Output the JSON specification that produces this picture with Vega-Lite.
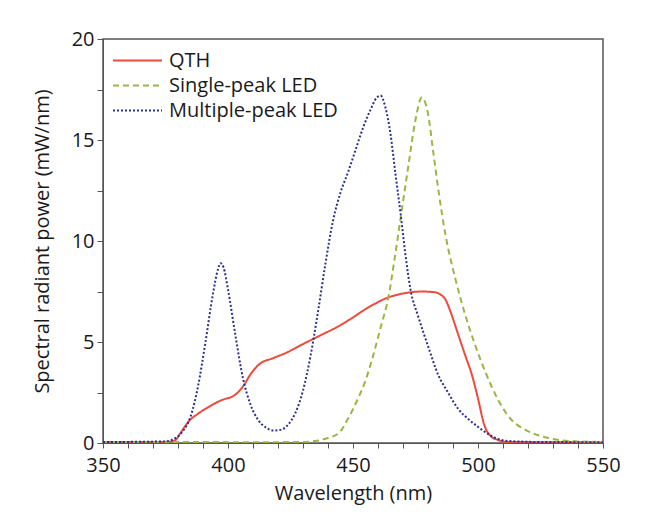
{
  "$schema": "https://vega.github.io/schema/vega-lite/v6.json",
  "autosize": "none",
  "width": 500,
  "height": 404,
  "padding": {"left": 103, "top": 39, "right": 46, "bottom": 86},
  "background": "white",
  "config": {
    "font": "Open Sans",
    "view": {"stroke": "#555555", "strokeWidth": 1.5},
    "axis": {"grid": false, "domainColor": "#555555", "tickColor": "#555555", "labelColor": "#1a1a1a", "titleColor": "#1a1a1a", "labelFontSize": 20, "titleFontSize": 20, "titleFontWeight": "normal", "labelFont": "Open Sans", "titleFont": "Open Sans"}
  },
  "data": {"values": [
    {"s":"QTH","wl":350,"p":0.04},{"s":"QTH","wl":360,"p":0.05},{"s":"QTH","wl":370,"p":0.05},{"s":"QTH","wl":376,"p":0.06},
    {"s":"QTH","wl":379,"p":0.15},{"s":"QTH","wl":381,"p":0.5},{"s":"QTH","wl":384.5,"p":1.1},{"s":"QTH","wl":388,"p":1.45},
    {"s":"QTH","wl":392.5,"p":1.8},{"s":"QTH","wl":397,"p":2.1},{"s":"QTH","wl":403,"p":2.4},{"s":"QTH","wl":406,"p":2.8},
    {"s":"QTH","wl":409,"p":3.4},{"s":"QTH","wl":412.5,"p":3.9},{"s":"QTH","wl":418,"p":4.2},{"s":"QTH","wl":423,"p":4.45},
    {"s":"QTH","wl":430,"p":4.9},{"s":"QTH","wl":437.5,"p":5.36},{"s":"QTH","wl":444.5,"p":5.8},{"s":"QTH","wl":448.5,"p":6.1},
    {"s":"QTH","wl":456,"p":6.7},{"s":"QTH","wl":464,"p":7.2},{"s":"QTH","wl":470,"p":7.4},{"s":"QTH","wl":477.5,"p":7.5},
    {"s":"QTH","wl":483,"p":7.46},{"s":"QTH","wl":485,"p":7.35},{"s":"QTH","wl":487,"p":7.1},{"s":"QTH","wl":489,"p":6.5},
    {"s":"QTH","wl":492,"p":5.4},{"s":"QTH","wl":495,"p":4.3},{"s":"QTH","wl":497.5,"p":3.4},{"s":"QTH","wl":500,"p":2.2},
    {"s":"QTH","wl":502.5,"p":0.9},{"s":"QTH","wl":505,"p":0.35},{"s":"QTH","wl":508,"p":0.15},{"s":"QTH","wl":512,"p":0.05},
    {"s":"QTH","wl":530,"p":0.04},{"s":"QTH","wl":550,"p":0.03},

    {"s":"Single-peak LED","wl":350,"p":0.05},{"s":"Single-peak LED","wl":380,"p":0.05},{"s":"Single-peak LED","wl":410,"p":0.04},
    {"s":"Single-peak LED","wl":430,"p":0.05},{"s":"Single-peak LED","wl":436,"p":0.12},{"s":"Single-peak LED","wl":440,"p":0.25},
    {"s":"Single-peak LED","wl":444.4,"p":0.5},{"s":"Single-peak LED","wl":448,"p":1.2},{"s":"Single-peak LED","wl":452,"p":2.2},
    {"s":"Single-peak LED","wl":455,"p":3.1},{"s":"Single-peak LED","wl":458,"p":4.3},{"s":"Single-peak LED","wl":461,"p":5.7},
    {"s":"Single-peak LED","wl":464.3,"p":7.3},{"s":"Single-peak LED","wl":466.5,"p":9.0},{"s":"Single-peak LED","wl":469,"p":11.1},
    {"s":"Single-peak LED","wl":472,"p":13.6},{"s":"Single-peak LED","wl":475,"p":16.0},{"s":"Single-peak LED","wl":477.5,"p":17.1},
    {"s":"Single-peak LED","wl":480,"p":16.3},{"s":"Single-peak LED","wl":482,"p":14.5},{"s":"Single-peak LED","wl":484.3,"p":12.4},
    {"s":"Single-peak LED","wl":487,"p":10.3},{"s":"Single-peak LED","wl":491,"p":8.1},{"s":"Single-peak LED","wl":495,"p":6.3},
    {"s":"Single-peak LED","wl":499,"p":4.8},{"s":"Single-peak LED","wl":503,"p":3.5},{"s":"Single-peak LED","wl":508,"p":2.15},
    {"s":"Single-peak LED","wl":513,"p":1.2},{"s":"Single-peak LED","wl":519,"p":0.65},{"s":"Single-peak LED","wl":525,"p":0.35},
    {"s":"Single-peak LED","wl":530,"p":0.2},{"s":"Single-peak LED","wl":540,"p":0.08},{"s":"Single-peak LED","wl":550,"p":0.05},

    {"s":"Multiple-peak LED","wl":350,"p":0.05},{"s":"Multiple-peak LED","wl":365,"p":0.06},{"s":"Multiple-peak LED","wl":375,"p":0.08},
    {"s":"Multiple-peak LED","wl":378,"p":0.18},{"s":"Multiple-peak LED","wl":382,"p":0.6},{"s":"Multiple-peak LED","wl":385,"p":1.3},
    {"s":"Multiple-peak LED","wl":388,"p":2.8},{"s":"Multiple-peak LED","wl":391,"p":5.0},{"s":"Multiple-peak LED","wl":394,"p":7.4},
    {"s":"Multiple-peak LED","wl":396,"p":8.6},{"s":"Multiple-peak LED","wl":397,"p":8.9},{"s":"Multiple-peak LED","wl":398.2,"p":8.7},
    {"s":"Multiple-peak LED","wl":400,"p":7.6},{"s":"Multiple-peak LED","wl":403,"p":5.3},{"s":"Multiple-peak LED","wl":406,"p":3.2},
    {"s":"Multiple-peak LED","wl":409,"p":1.9},{"s":"Multiple-peak LED","wl":412,"p":1.15},{"s":"Multiple-peak LED","wl":415,"p":0.78},
    {"s":"Multiple-peak LED","wl":418,"p":0.62},{"s":"Multiple-peak LED","wl":421,"p":0.65},{"s":"Multiple-peak LED","wl":424,"p":0.9},
    {"s":"Multiple-peak LED","wl":427,"p":1.5},{"s":"Multiple-peak LED","wl":430,"p":2.6},{"s":"Multiple-peak LED","wl":433,"p":4.3},
    {"s":"Multiple-peak LED","wl":436,"p":6.5},{"s":"Multiple-peak LED","wl":439,"p":8.9},{"s":"Multiple-peak LED","wl":442,"p":11.0},
    {"s":"Multiple-peak LED","wl":445,"p":12.4},{"s":"Multiple-peak LED","wl":448,"p":13.4},{"s":"Multiple-peak LED","wl":451,"p":14.5},
    {"s":"Multiple-peak LED","wl":454,"p":15.6},{"s":"Multiple-peak LED","wl":457,"p":16.5},{"s":"Multiple-peak LED","wl":459.5,"p":17.1},
    {"s":"Multiple-peak LED","wl":461,"p":17.2},{"s":"Multiple-peak LED","wl":463,"p":16.6},{"s":"Multiple-peak LED","wl":465,"p":15.3},
    {"s":"Multiple-peak LED","wl":467,"p":13.3},{"s":"Multiple-peak LED","wl":469,"p":11.4},{"s":"Multiple-peak LED","wl":471,"p":9.3},
    {"s":"Multiple-peak LED","wl":473,"p":7.6},{"s":"Multiple-peak LED","wl":476,"p":6.3},{"s":"Multiple-peak LED","wl":480,"p":4.8},
    {"s":"Multiple-peak LED","wl":484,"p":3.4},{"s":"Multiple-peak LED","wl":488,"p":2.5},{"s":"Multiple-peak LED","wl":492,"p":1.7},
    {"s":"Multiple-peak LED","wl":496,"p":1.2},{"s":"Multiple-peak LED","wl":500,"p":0.8},{"s":"Multiple-peak LED","wl":504,"p":0.45},
    {"s":"Multiple-peak LED","wl":508,"p":0.2},{"s":"Multiple-peak LED","wl":512,"p":0.1},{"s":"Multiple-peak LED","wl":525,"p":0.05},
    {"s":"Multiple-peak LED","wl":550,"p":0.04}
  ]},
  "mark": {"type": "line", "strokeWidth": 2, "interpolate": "monotone", "clip": true},
  "encoding": {
    "x": {"field": "wl", "type": "quantitative", "title": "Wavelength (nm)",
      "scale": {"domain": [350, 550], "nice": false, "zero": false},
      "axis": {"values": [350,360,370,380,390,400,410,420,430,440,450,460,470,480,490,500,510,520,530,540,550],
        "labelExpr": "datum.value % 50 === 0 ? datum.label : ''", "tickSize": 5, "labelPadding": 7, "titlePadding": 8, "labelFlush": false}},
    "y": {"field": "p", "type": "quantitative", "title": "Spectral radiant power (mW/nm)",
      "scale": {"domain": [0, 20], "nice": false},
      "axis": {"values": [0,2.5,5,7.5,10,12.5,15,17.5,20],
        "labelExpr": "datum.value % 5 === 0 ? datum.label : ''", "tickSize": 6, "labelPadding": 3, "titlePadding": 19}},
    "color": {"field": "s", "type": "nominal",
      "scale": {"domain": ["QTH", "Single-peak LED", "Multiple-peak LED"], "range": ["#f04a3c", "#98b840", "#2c3190"]},
      "legend": {"title": null, "orient": "none", "legendX": 21, "legendY": 8, "symbolType": "M-2,0H2", "symbolSize": 600, "symbolStrokeWidth": 2,
        "labelFontSize": 20, "labelColor": "#1a1a1a", "labelOffset": 18, "labelLimit": 0, "rowPadding": 1, "labelFont": "Open Sans"}},
    "strokeDash": {"field": "s", "type": "nominal",
      "scale": {"domain": ["QTH", "Single-peak LED", "Multiple-peak LED"], "range": [[1, 0], [6, 4], [2, 2]]},
      "legend": null}
  }
}
